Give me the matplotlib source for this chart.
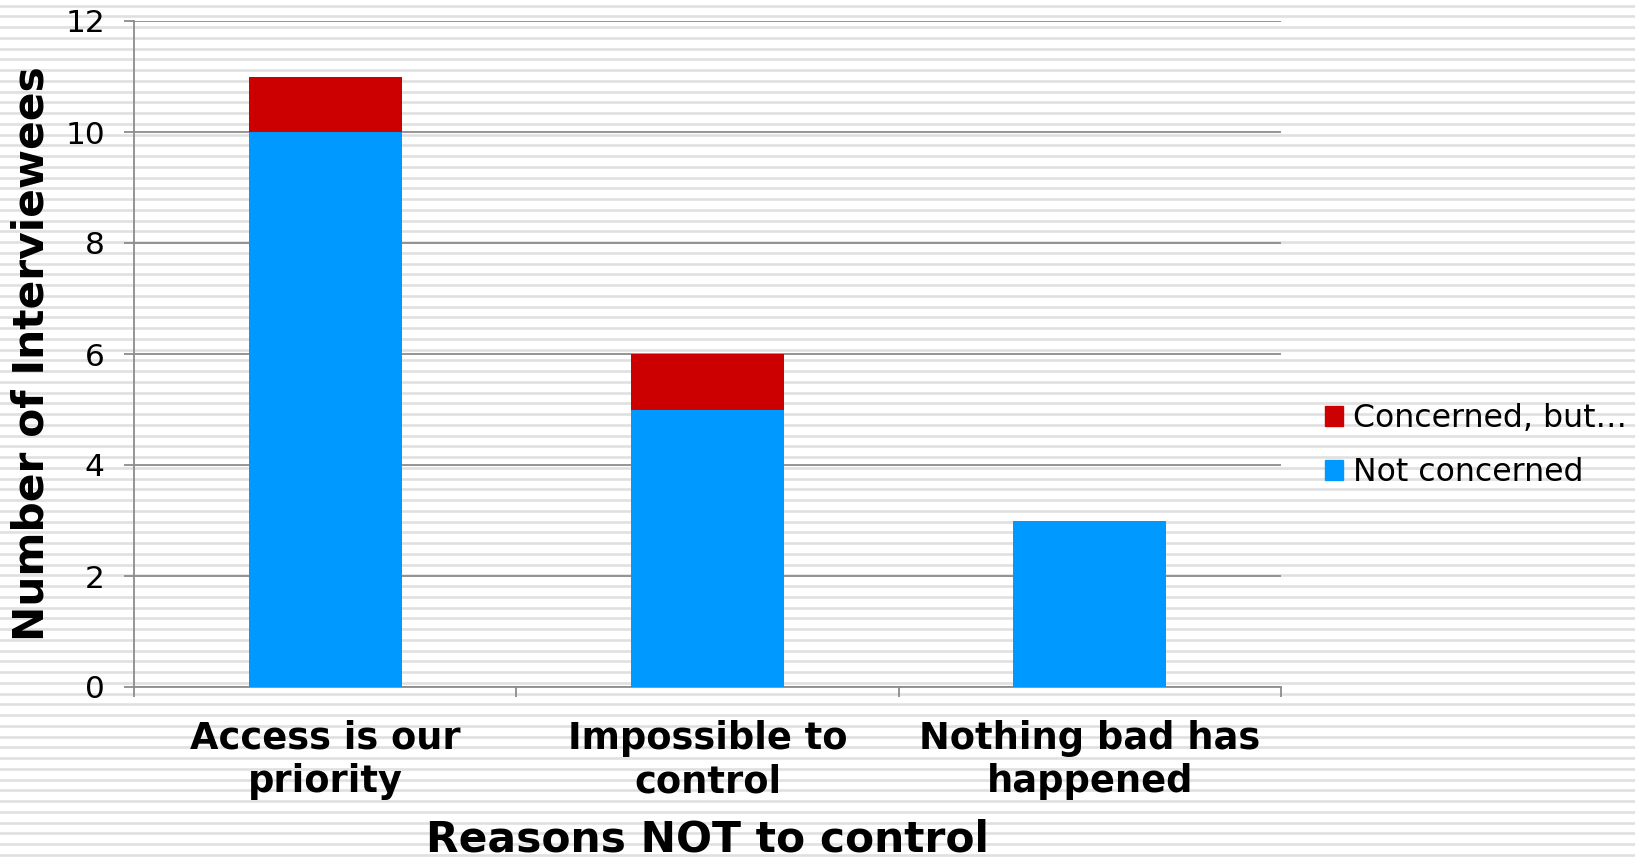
import matplotlib
matplotlib.use("Agg")
import matplotlib.pyplot as plt
from matplotlib.lines import Line2D
from matplotlib.patches import Patch
import numpy as np

categories = ["Access is our\npriority", "Impossible to\ncontrol", "Nothing bad has\nhappened"]
not_concerned = [10, 5, 3]
concerned_but = [1, 1, 0]
series_names = ["Concerned, but…", "Not concerned"]
yticks = [0, 2, 4, 6, 8, 10, 12]

RED = "#CC0000"
BLUE = "#0099FF"
GRID = "#8C8C8C"

plt.rcParams['font.family'] = ['DejaVu Sans']

W, H = 1635, 859
fig = plt.figure(figsize=(W / 100, H / 100), dpi=100)
fig.patch.set_facecolor("white")

# striped background
period = 10.75
y0 = 5.7
k = 0
while y0 + k * period < H + 2:
    yy = 1 - (y0 + k * period) / H
    fig.add_artist(Line2D([0, 1], [yy, yy], transform=fig.transFigure,
                          color="#e0e0e0", lw=1.9, zorder=-10))
    k += 1

ax = fig.add_axes([134 / W, 1 - 687 / H, (1281 - 134) / W, (687 - 21) / H])
ax.patch.set_alpha(0)

x = np.arange(len(categories))
ax.bar(x, not_concerned, width=0.4, color=BLUE, zorder=3, label=series_names[1])
ax.bar(x, concerned_but, width=0.4, bottom=not_concerned, color=RED, zorder=3,
       label=series_names[0])

ax.set_xlim(-0.5, len(categories) - 0.5)
ax.set_ylim(0, 12)
ax.set_yticks(yticks)
ax.set_yticklabels([str(v) for v in yticks])
ax.yaxis.grid(True, color=GRID, lw=1.3, zorder=1)
ax.set_axisbelow(True)

for s in ["top", "right"]:
    ax.spines[s].set_visible(False)
for s in ["left", "bottom"]:
    ax.spines[s].set_color(GRID)
    ax.spines[s].set_linewidth(1.3)

ax.tick_params(axis="y", direction="out", length=7, width=1.3, color=GRID,
               labelsize=22.5, pad=14)
ax.set_xticks(np.arange(-0.5, len(categories), 1.0))
ax.set_xticklabels([])
ax.tick_params(axis="x", which="major", direction="out", length=7, width=1.3, color=GRID)
ax.set_xticks(x, minor=True)
ax.set_xticklabels(categories, minor=True, fontsize=26.5, fontweight="bold",
                   linespacing=1.23)
ax.tick_params(axis="x", which="minor", length=0, pad=23.5)

ax.set_xlabel("Reasons NOT to control", fontsize=30.5, fontweight="bold")
ax.set_ylabel("Number of Interviewees", fontsize=30.5, fontweight="bold")
ax.xaxis.label.set_va("center")
ax.xaxis.set_label_coords(0.5, (687 - 839) / 666)
ax.yaxis.label.set_rotation_mode("default")
ax.yaxis.label.set_va("center")
ax.yaxis.label.set_ha("center")
ax.yaxis.set_label_coords((32 - 134) / 1147, 0.5)

handles = [Patch(color=RED), Patch(color=BLUE)]
fig.legend(handles, series_names, loc="center left",
           bbox_to_anchor=(1325 / W, 1 - 445.6 / H), bbox_transform=fig.transFigure,
           frameon=False, fontsize=22.7, handlelength=0.58, handleheight=0.58,
           handletextpad=0.3, labelspacing=0.73, borderpad=0, borderaxespad=0)

fig.savefig("out.png", dpi=100, facecolor="white")
